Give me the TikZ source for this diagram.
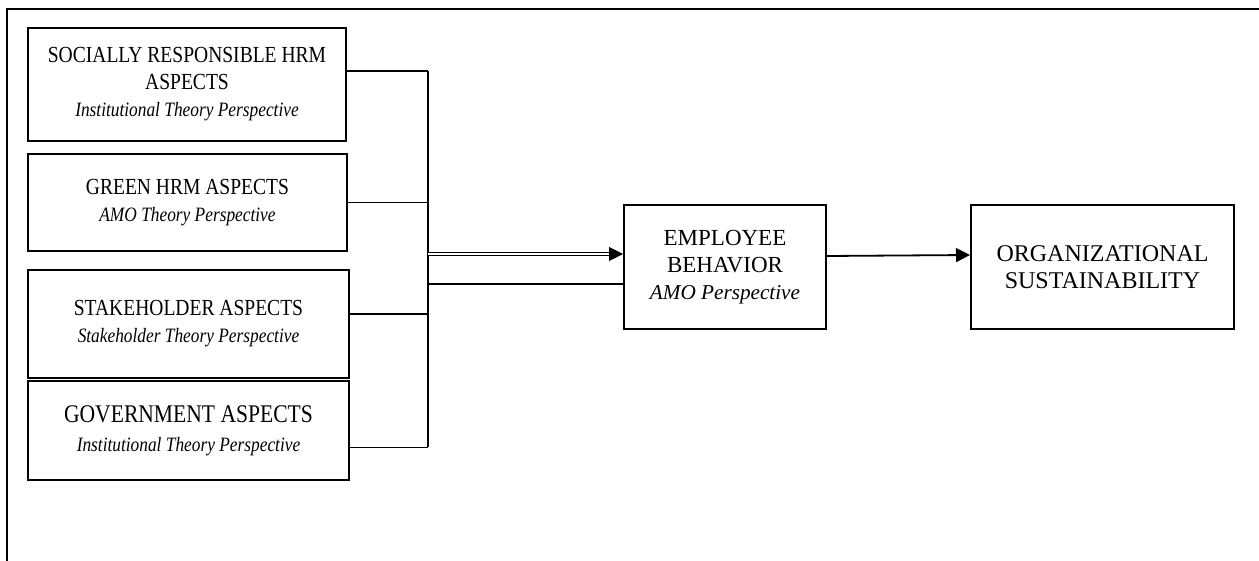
\documentclass[tikz,border=0pt]{standalone}
\usepackage{fontspec}
\setmainfont{Liberation Serif}
\newfontfamily\narrowfont[FakeStretch=0.85]{Liberation Serif}
\usetikzlibrary{arrows.meta}

\newcommand{\persp}{\fontsize{10.2}{13.5}\selectfont\itshape}
\newcommand{\ebpersp}{\fontsize{10.6}{13.5}\selectfont\itshape}

\tikzset{
	box/.style={draw, line width=1pt, align=center, inner sep=0pt,
		font=\narrowfont\fontsize{11.5}{13.5}\selectfont},
	mainbox/.style={box, minimum height=62pt,
		font=\fontsize{11.5}{13.5}\selectfont},
	link/.style={line width=0.9pt},
	thinlink/.style={line width=0.5pt},
	tip/.style={-{Triangle[length=7pt,width=7pt]}}
}

\begin{document}
\begin{tikzpicture}[x=0.5pt,y=-0.5pt]
	
	\useasboundingbox (0,0) rectangle (1259,561);
	\draw[line width=1pt] (7,561) -- (7,9) -- (1259,9);
	
	\node[box, minimum width=159pt, minimum height=56.5pt] (srhrm) at (187,84.5)
		{SOCIALLY RESPONSIBLE HRM\\ASPECTS\\{\persp Institutional Theory Perspective}};
	\node[box, minimum width=159.5pt, minimum height=48.5pt] (ghrm) at (187.5,202.5)
		{GREEN HRM ASPECTS\\{\persp AMO Theory Perspective}};
	\node[box, minimum width=160.5pt, minimum height=54pt] (stake) at (188.5,324)
		{STAKEHOLDER ASPECTS\\{\persp Stakeholder Theory Perspective}};
	\node[box, minimum width=160.5pt, minimum height=49.5pt,
		font=\narrowfont\fontsize{12.7}{14.5}\selectfont] (gov) at (188.5,430.5)
		{GOVERNMENT ASPECTS\\{\persp Institutional Theory Perspective}};
	\node[mainbox, minimum width=101pt] (eb) at (725,267)
		{EMPLOYEE\\BEHAVIOR\\{\ebpersp AMO Perspective}};
	\node[mainbox, minimum width=131.5pt, font=\fontsize{12}{13.5}\selectfont] (os) at (1102.5,267)
		{ORGANIZATIONAL\\SUSTAINABILITY};
	
	\coordinate (bustop) at (428,71);
	\coordinate (busbot) at (428,447);
	\coordinate (busin) at (428,254);
	\coordinate (busout) at (428,284);
	\coordinate (stakein) at (428,314);
	
	\draw[link] (srhrm.east |- bustop) -- (bustop);
	\draw[thinlink] (ghrm.east) -- (ghrm.east -| bustop);
	\draw[link] (stake.east |- stakein) -- (stakein);
	\draw[thinlink] (gov.east |- busbot) -- (busbot);
	\draw[link] (bustop) -- (busbot);
	
	\draw[thinlink, double, double distance=1pt, tip] (busin) -- (eb.west |- busin);
	\draw[link] (busout) -- (eb.west |- busout);
	\draw[link, tip] ([yshift=5.5pt]eb.east) -- ([yshift=6pt]os.west);
	
\end{tikzpicture}
\end{document}
